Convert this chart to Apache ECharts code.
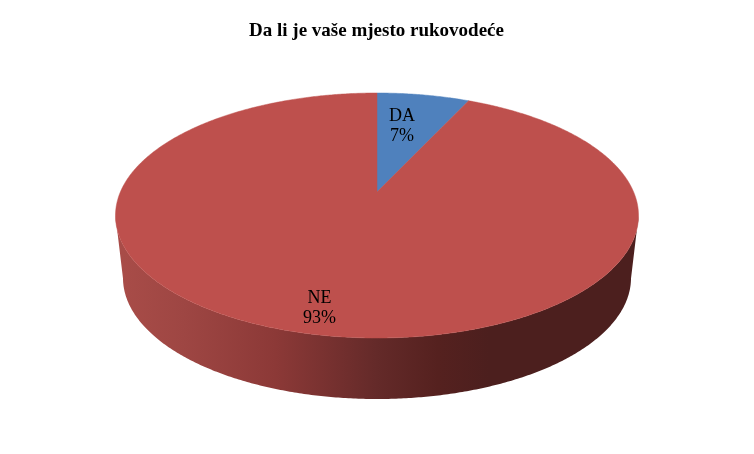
<!DOCTYPE html>
<html>
<head>
<meta charset="utf-8">
<style>html,body{margin:0;padding:0;background:#fff}#c{width:754px;height:454px}</style>
<script src="https://cdn.jsdelivr.net/npm/echarts@6/dist/echarts.min.js"></script>
</head>
<body>
<div id="c"></div>
<script>
const titleText = 'Da li je vaše mjesto rukovodeće';
const categories = ['DA', 'NE'];
const values = [7, 93];
const sliceColors = ['#4F81BD', '#BE504D'];

// Perspective pie layout (pixels)
const top_ = { cx: 377, cy: 215.5, rx: 261.5, ry: 122.5, apexY: 192 };
const bottom_ = { cx: 377, cy: 278, rx: 254, ry: 121 };
const labelFraction = [[0.44, 0.55], [1.01, 0.97]];
const wallStops = [
  { offset: 0, color: '#A84C48' }, { offset: 0.12, color: '#9E4643' },
  { offset: 0.3, color: '#8C3937' }, { offset: 0.43, color: '#722F2E' },
  { offset: 0.5, color: '#642A29' }, { offset: 0.62, color: '#55211F' },
  { offset: 0.72, color: '#4C1F1E' }, { offset: 1, color: '#4C1F1E' }
];

const total = values.reduce((a, b) => a + b, 0);

function rimPoint(theta) {
  const u = Math.sin(theta), v = -Math.cos(theta);
  const h = (top_.apexY - top_.cy) / top_.ry;
  const s = -h * v + Math.sqrt(h * h * v * v - h * h + 1);
  return [top_.cx + top_.rx * s * u, top_.apexY + top_.ry * s * v];
}

function renderSlice(params, api) {
  const i = params.dataIndex;
  let before = 0;
  for (let k = 0; k < i; k++) before += values[k];
  const a0 = before / total * Math.PI * 2;
  const a1 = (before + api.value(0)) / total * Math.PI * 2;
  const steps = Math.max(4, Math.ceil((a1 - a0) * 120));
  const rim = [];
  const wallTop = [];
  const wallBottom = [];
  for (let n = 0; n <= steps; n++) {
    const p = rimPoint(a0 + (a1 - a0) * n / steps);
    rim.push(p);
    const sx = (p[0] - top_.cx) / top_.rx;
    const cy = (p[1] - top_.cy) / top_.ry;
    if (cy >= -0.001) {
      wallTop.push(p);
      wallBottom.push([bottom_.cx + bottom_.rx * sx, bottom_.cy + bottom_.ry * cy]);
    }
  }
  const children = [];
  if (wallTop.length > 1) {
    children.push({
      type: 'polygon',
      shape: { points: wallTop.concat(wallBottom.reverse()) },
      style: {
        fill: new echarts.graphic.LinearGradient(
          bottom_.cx - bottom_.rx, 0, bottom_.cx + bottom_.rx, 0, wallStops, true),
        stroke: null
      }
    });
  }
  children.push({
    type: 'polygon',
    shape: { points: [[top_.cx, top_.apexY]].concat(rim) },
    style: { fill: sliceColors[i], stroke: sliceColors[i], lineWidth: 0.5 }
  });
  const mid = (a0 + a1) / 2;
  const f = labelFraction[i];
  children.push({
    type: 'text',
    z2: 10,
    style: {
      x: top_.cx + top_.rx * Math.sin(mid) * f[0],
      y: top_.apexY - top_.ry * Math.cos(mid) * f[1],
      text: categories[i] + '\n' + Math.round(values[i] / total * 100) + '%',
      fill: '#000',
      font: '18px "Liberation Serif", serif',
      lineHeight: 20,
      align: 'center',
      verticalAlign: 'middle'
    }
  });
  return { type: 'group', children: children };
}

const chart = echarts.init(document.getElementById('c'), null, { renderer: 'canvas' });
chart.setOption({
  animation: false,
  backgroundColor: '#fff',
  title: {
    text: titleText,
    left: 371.5,
    top: 17,
    textAlign: 'center',
    textStyle: { fontFamily: '"Liberation Serif", serif', fontSize: 19, fontWeight: 'bold', color: '#000' }
  },
  series: [{
    type: 'custom',
    coordinateSystem: 'none',
    silent: true,
    renderItem: renderSlice,
    data: values.map((v, i) => ({ name: categories[i], value: [v] }))
  }]
});
</script>
</body>
</html>
